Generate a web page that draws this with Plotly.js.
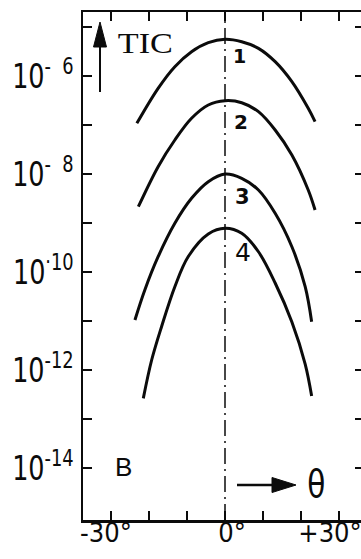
<!DOCTYPE html>
<html>
<head>
<meta charset="utf-8">
<script src="https://cdn.plot.ly/plotly-3.0.1.min.js"></script>
<style>
  html, body { margin: 0; padding: 0; background: #fff; overflow: hidden; }
  #chart { width: 364px; height: 559px; }
</style>
</head>
<body>
<div id="chart"></div>
<script>
// Angular distributions of the total ion current (TIC) versus tilt angle theta
const angle1 = [-23.2, -17.6, -13.2, -8.8, -4.4, 0, 4.4, 8.8, 13.2, 17.6, 21.9, 23.7];
const tic1   = [1.08e-7, 5.6e-7, 1.55e-6, 3.13e-6, 4.79e-6, 5.61e-6, 5.0e-6, 3.67e-6, 1.96e-6, 7.66e-7, 2.19e-7, 1.17e-7];

const angle2 = [-22.8, -17.6, -13.2, -8.8, -4.4, 0, 4.4, 8.8, 13.2, 17.6, 21.9, 23.7];
const tic2   = [2.15e-9, 1.41e-8, 4.94e-8, 1.37e-7, 2.56e-7, 3.13e-7, 2.85e-7, 1.87e-7, 7.91e-8, 2.44e-8, 4.71e-9, 1.84e-9];

const angle3 = [-23.7, -21.1, -17.6, -13.2, -8.8, -4.4, 0, 4.4, 8.8, 13.2, 17.6, 21.1, 22.8];
const tic3   = [1.05e-11, 4.30e-11, 2.05e-10, 9.86e-10, 3.19e-9, 6.97e-9, 1.0e-8, 8.17e-9, 4.71e-9, 1.58e-9, 3.28e-10, 5.01e-11, 9.68e-12];

const angle4 = [-21.5, -19.3, -16.7, -13.2, -9.7, -4.4, 0, 4.4, 8.8, 13.2, 17.6, 21.1, 22.8];
const tic4   = [2.64e-13, 1.60e-12, 7.66e-12, 5.01e-11, 2.05e-10, 5.97e-10, 7.80e-10, 6.17e-10, 2.59e-10, 5.97e-11, 9.55e-12, 1.32e-12, 2.95e-13];

const curveNames = ["1", "2", "3", "4"];

// axis ticks: labelled majors, unlabelled minors
const xTickVals = [-30, 0, 30];
const xTickText = ["-30°", "0°", "+30°"];
const xMinorVals = [-20, -10, 10, 20];
const yTickVals = [1e-6, 1e-8, 1e-10, 1e-12, 1e-14];
const yTickText = ["10<sup>-\u00a0 6</sup>", "10<sup>-\u00a0 8</sup>", "10<sup>·10</sup>", "10<sup>-12</sup>", "10<sup>-14</sup>"];
const yMinorVals = [1e-5, 1e-7, 1e-9, 1e-11, 1e-13];

const HAND = "'DejaVu Sans', sans-serif";
const INK = "#0b0b0b";

// plot box in page pixels, used to place the decorations
const box = { l: 83, t: 12, w: 281, h: 508 };
const px = (x) => (x - box.l) / box.w;
const py = (y) => (box.t + box.h - y) / box.h;

const series = [[angle1, tic1], [angle2, tic2], [angle3, tic3], [angle4, tic4]];
const traces = series.map(([x, y], i) => ({
  x: x, y: y, type: "scatter", mode: "lines", name: curveNames[i],
  line: { color: INK, width: 3, shape: "spline", smoothing: 1 },
  hoverinfo: "skip"
}));

// curve number labels beside the peaks (x in degrees, y as log10)
const labelPos = [[3.8, -5.59], [4.2, -6.94], [4.7, -8.47], [4.7, -9.61]];
const labelSize = [19, 20, 21, 25];
const annotations = curveNames.map((t, i) => ({
  x: labelPos[i][0], y: labelPos[i][1], xref: "x", yref: "y",
  xanchor: "center", yanchor: "middle",
  text: i < 3 ? "<b>" + t + "</b>" : t, showarrow: false,
  font: { family: HAND, size: labelSize[i], color: INK }
}));

annotations.push(
  { x: px(145), y: py(43), xref: "paper", yref: "paper", xanchor: "center", yanchor: "middle",
    text: "TIC", showarrow: false,
    font: { family: "'Liberation Serif', serif", size: 29, color: INK } },
  { x: px(123), y: py(467), xref: "paper", yref: "paper", xanchor: "center", yanchor: "middle",
    text: "B", showarrow: false,
    font: { family: "'Liberation Sans', sans-serif", size: 26, color: INK } },
  { x: px(316), y: py(484), xref: "paper", yref: "paper", xanchor: "center", yanchor: "middle",
    text: "θ", showarrow: false,
    font: { family: HAND, size: 37, color: INK } }
);

const shapes = [
  // zero-angle reference line
  { type: "line", xref: "x", yref: "paper", x0: 0, x1: 0, y0: 0, y1: 1,
    line: { color: INK, width: 1.5, dash: "16px,5px,2px,5px" } },
  // ordinate arrow
  { type: "line", xref: "paper", yref: "paper", x0: px(100), x1: px(100), y0: py(92), y1: py(44),
    line: { color: INK, width: 2 } },
  { type: "path", xref: "paper", yref: "paper",
    path: `M ${px(93.5)} ${py(47)} L ${px(106.5)} ${py(47)} L ${px(100)} ${py(22)} Z`,
    fillcolor: INK, line: { color: INK, width: 1 } },
  // abscissa arrow
  { type: "line", xref: "paper", yref: "paper", x0: px(237), x1: px(274), y0: py(485), y1: py(485),
    line: { color: INK, width: 2.5 } },
  { type: "path", xref: "paper", yref: "paper",
    path: `M ${px(272)} ${py(477.5)} L ${px(272)} ${py(492.5)} L ${px(296)} ${py(485)} Z`,
    fillcolor: INK, line: { color: INK, width: 1 } }
];

const tickStyle = { ticks: "inside", ticklen: 9, tickwidth: 1.5, tickcolor: INK };
const axisCommon = Object.assign({
  showgrid: false, zeroline: false, showline: true, linecolor: INK, linewidth: 2.5,
  mirror: "ticks", tickmode: "array", fixedrange: true, ticklabeloverflow: "allow"
}, tickStyle);

const layout = {
  width: 364, height: 559, autosize: false,
  margin: { l: box.l, r: 364 - box.l - box.w, t: box.t, b: 559 - box.t - box.h, pad: 0 },
  paper_bgcolor: "#fff", plot_bgcolor: "#fff",
  showlegend: false,
  xaxis: Object.assign({}, axisCommon, {
    range: [(83 - 225) / 3.8, (364 - 225) / 3.8],
    tickvals: xTickVals, ticktext: xTickText,
    minor: Object.assign({ tickmode: "array", tickvals: xMinorVals }, tickStyle),
    ticklabelstandoff: -13,
    tickfont: { family: HAND, size: 27, color: INK }
  }),
  yaxis: Object.assign({}, axisCommon, {
    type: "log", range: [-15.061, -4.694],
    tickvals: yTickVals, ticktext: yTickText,
    minor: Object.assign({ tickmode: "array", tickvals: yMinorVals }, tickStyle),
    tickfont: { family: HAND, size: 34, color: INK }
  }),
  annotations: annotations,
  shapes: shapes
};

// rescale a text element horizontally about its anchor (narrow or wide lettering),
// with an optional sideways nudge in pixels
function narrow(el, s, dx) {
  const b = el.getBBox();
  const anchor = el.getAttribute("text-anchor") || "start";
  const ax = anchor === "end" ? b.x + b.width : anchor === "middle" ? b.x + b.width / 2 : b.x;
  const t = el.getAttribute("transform") || "";
  el.setAttribute("transform",
    `${t} translate(${ax + (dx || 0)},0) scale(${s},1) translate(${-ax},0)`);
}

// hand-lettered abscissa labels sit slightly off their ticks
const xLabelNudge = [-5, 7, -9];

Plotly.newPlot("chart", traces, layout, { staticPlot: true, displayModeBar: false }).then((gd) => {
  gd.querySelectorAll(".ytick text").forEach((el) => narrow(el, 0.75, 0));
  gd.querySelectorAll(".xtick text").forEach((el, i) => narrow(el, 0.9, xLabelNudge[i] || 0));
  gd.querySelectorAll(".annotation-text").forEach((el) => {
    if (el.textContent === "θ") narrow(el, 0.8, 0);
    if (el.textContent === "TIC") narrow(el, 1.18, 0);
  });
});
</script>
</body>
</html>
